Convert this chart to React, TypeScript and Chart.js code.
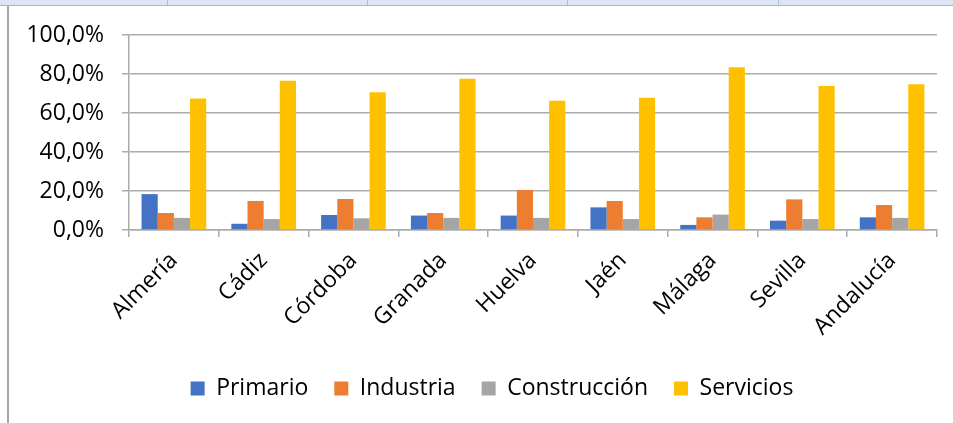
import React, { useEffect, useRef } from 'react';
import { Chart, registerables } from 'chart.js';

Chart.register(...registerables);

const categories = ['Almería', 'Cádiz', 'Córdoba', 'Granada', 'Huelva', 'Jaén', 'Málaga', 'Sevilla', 'Andalucía'];
const primario = [18.4, 3.2, 7.7, 7.4, 7.4, 11.6, 2.6, 4.8, 6.5];
const industria = [8.7, 14.9, 15.9, 8.7, 20.5, 14.9, 6.5, 15.7, 12.8];
const construccion = [6.2, 5.6, 6.0, 6.2, 6.2, 5.6, 7.9, 5.6, 6.2];
const servicios = [67.4, 76.6, 70.6, 77.6, 66.3, 67.8, 83.4, 73.8, 74.7];
const seriesNames = ['Primario', 'Industria', 'Construcción', 'Servicios'];
const seriesColors = ['#4472C4', '#ED7D31', '#A5A5A5', '#FFC000'];
const yMin = 0;
const yMax = 100;
const yStep = 20;

const FONT = "'Open Sans', sans-serif";
const GRID = '#ababab';

const legendShift = {
  id: 'legendShift',
  afterLayout(chart: any) {
    if (chart.legend) {
      chart.legend.left += 23.5;
      chart.legend.right += 23.5;
    }
  },
};

export default function App() {
  const ref = useRef<HTMLCanvasElement | null>(null);

  useEffect(() => {
    if (!ref.current) return;
    const series = [primario, industria, construccion, servicios];
    const chart = new Chart(ref.current, {
      type: 'bar',
      data: {
        labels: categories,
        datasets: series.map((d, i) => ({
          label: seriesNames[i],
          data: d,
          backgroundColor: seriesColors[i],
          borderWidth: 0,
          categoryPercentage: 0.72,
          barPercentage: 1.0,
        })),
      },
      options: {
        responsive: false,
        animation: false,
        layout: { padding: { left: 0, top: 35, right: 16, bottom: 13 } },
        plugins: {
          tooltip: { enabled: false },
          legend: {
            position: 'bottom',
            labels: {
              font: { family: FONT, size: 23 },
              color: '#000',
              boxWidth: 14,
              boxHeight: 14,
              padding: 26,
            },
          },
        },
        scales: {
          x: {
            grid: { drawOnChartArea: false, drawTicks: true, tickLength: 7, color: GRID, lineWidth: 1.5, offset: true },
            border: { display: true, color: GRID, width: 1.5 },
            ticks: {
              font: { family: FONT, size: 23 },
              color: '#000',
              maxRotation: 45,
              minRotation: 45,
              padding: 10,
              autoSkip: false,
            },
            afterFit: (scale: any) => { scale.height = 121; },
          },
          y: {
            min: yMin,
            max: yMax,
            grid: { color: GRID, lineWidth: 1.5, drawTicks: true, tickLength: 7 },
            border: { display: true, color: GRID, width: 1.5 },
            ticks: {
              stepSize: yStep,
              font: { family: FONT, size: 23 },
              color: '#000',
              padding: 18,
              callback: (v: any) => Number(v).toFixed(1).replace('.', ',') + '%',
            },
            afterFit: (scale: any) => { scale.width = 129; },
          },
        },
      },
      plugins: [legendShift],
    });
    return () => chart.destroy();
  }, []);

  return (
    <div style={{ position: 'fixed', left: 0, top: 0, width: 953, height: 423, background: '#fff', overflow: 'hidden' }}>
      <canvas ref={ref} width={953} height={423} style={{ position: 'absolute', left: 0, top: 0, display: 'block' }} />
      <div style={{ position: 'absolute', left: 0, top: 0, width: 953, height: 5, background: '#dce6f2' }} />
      <div style={{ position: 'absolute', left: 0, top: 5, width: 953, height: 1, background: '#9db8d9' }} />
      {[167, 367, 567, 778].map((x) => (
        <div key={x} style={{ position: 'absolute', left: x, top: 0, width: 1, height: 5, background: '#a9c0dc' }} />
      ))}
      <div style={{ position: 'absolute', left: 7, top: 6, width: 2, height: 417, background: '#a6a6a6' }} />
    </div>
  );
}
